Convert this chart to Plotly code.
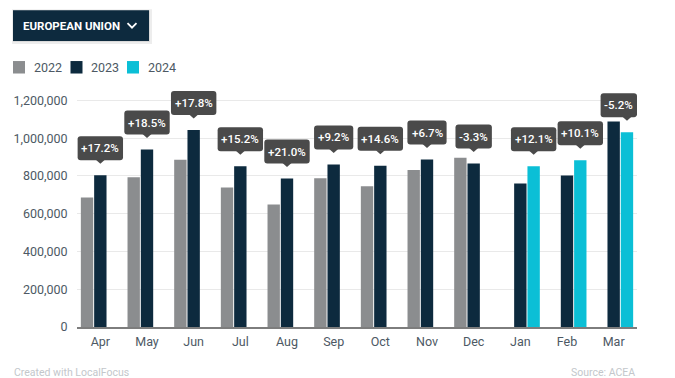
import plotly.graph_objects as go

# ---------------- data ----------------
months = ["Apr", "May", "Jun", "Jul", "Aug", "Sep", "Oct", "Nov", "Dec", "Jan", "Feb", "Mar"]
years = ["2022", "2023", "2024"]
sales_2022 = [686000, 793000, 886000, 739000, 649000, 788000, 745000, 831000, 896000, None, None, None]
sales_2023 = [804000, 940000, 1044000, 851000, 786000, 861000, 854000, 887000, 866000, 760000, 802000, 1088000]
sales_2024 = [None, None, None, None, None, None, None, None, None, 852000, 883000, 1032000]
changes = ["+17.2%", "+18.5%", "+17.8%", "+15.2%", "+21.0%", "+9.2%", "+14.6%", "+6.7%", "-3.3%",
           "+12.1%", "+10.1%", "-5.2%"]
y_ticks = [0, 200000, 400000, 600000, 800000, 1000000, 1200000]
title_text = "EUROPEAN UNION"
source_text = "Source: ACEA"
credit_text = "Created with LocalFocus"

# ---------------- style ----------------
W, H = 675, 378
ML, MR, MT, MB = 77, 38, 80, 50.5
PW, PH = W - ML - MR, H - MT - MB
Y_TOP_TICK_PX = 100.5          # pixel row of the 1,200,000 gridline
colors = ["#8b8d8f", "#0d2a3e", "#0bbfd6"]
text_col = "#4d5964"
bubble_col = "#4a4a4a"
BARGAP, GROUPGAP = 0.145, 0.07
FONT = "Roboto"

series = [sales_2022, sales_2023, sales_2024]
xs = list(range(len(months)))
y_max = y_ticks[-1] * PH / (H - MB - Y_TOP_TICK_PX)

fig = go.Figure()
for name, vals, col in zip(years, series, colors):
    fig.add_trace(go.Bar(x=xs, y=vals, name=name, marker=dict(color=col, line=dict(width=0)),
                         showlegend=False))


def px_x(p):
    return (p - ML) / PW


def px_y(p):
    return (H - MB - p) / PH


shapes = []
annotations = []

# ---------------- change bubbles ----------------
slot = (1 - BARGAP) / len(series)
px_per_cat = PW / len(months)
char_w = {"+": 6.3, "-": 3.5, ".": 2.8, "%": 8.2}
for i, lab in enumerate(changes):
    k = max(j for j, s in enumerate(series) if s[i] is not None)
    val = series[k][i]
    bx = i + (k - 1) * slot
    w = 9.5 + sum(char_w.get(c, 6.2) for c in lab)
    right_room = (len(months) - 0.5 - bx) * px_per_cat
    left_room = (bx + 0.5) * px_per_cat
    s = 0.0
    if w / 2 > right_room:
        s = right_room - w / 2
    if w / 2 > left_room:
        s = w / 2 - left_room
    x0, x1, y0, y1, r = s - w / 2, s + w / 2, 15, 39, 3
    path = (f"M{x0 + r},{y0} L{x1 - r},{y0} Q{x1},{y0} {x1},{y0 + r} L{x1},{y1 - r} "
            f"Q{x1},{y1} {x1 - r},{y1} L{x0 + r},{y1} Q{x0},{y1} {x0},{y1 - r} "
            f"L{x0},{y0 + r} Q{x0},{y0} {x0 + r},{y0} Z")
    shapes.append(dict(type="path", xref="x", yref="y", xsizemode="pixel", ysizemode="pixel",
                       xanchor=bx, yanchor=val, path=path, fillcolor=bubble_col,
                       line=dict(width=0), layer="above"))
    shapes.append(dict(type="path", xref="x", yref="y", xsizemode="pixel", ysizemode="pixel",
                       xanchor=bx, yanchor=val, path="M-4.5,15.5 L0,11.5 L4.5,15.5 Z",
                       fillcolor=bubble_col, line=dict(width=0), layer="above"))
    annotations.append(dict(x=bx, y=val, xref="x", yref="y", xshift=s, yshift=27, text=lab,
                            showarrow=False, xanchor="center", yanchor="middle",
                            font=dict(family=FONT, size=11.5, color="white", weight=500)))

# ---------------- title button ----------------
shapes.append(dict(type="rect", xref="paper", yref="paper", x0=px_x(12), x1=px_x(152),
                   y0=px_y(44), y1=px_y(9), fillcolor="rgba(0,0,0,0.07)", line=dict(width=0)))
shapes.append(dict(type="rect", xref="paper", yref="paper", x0=px_x(13), x1=px_x(150),
                   y0=px_y(42), y1=px_y(10), fillcolor="rgba(0,0,0,0.08)", line=dict(width=0)))
shapes.append(dict(type="rect", xref="paper", yref="paper", x0=px_x(13), x1=px_x(149),
                   y0=px_y(41), y1=px_y(10), fillcolor=colors[1], line=dict(width=0)))
shapes.append(dict(type="path", xref="paper", yref="paper",
                   path=f"M{px_x(127.5)},{px_y(23)} L{px_x(132)},{px_y(27.5)} L{px_x(136.5)},{px_y(23)}",
                   line=dict(color="white", width=1.8)))
annotations.append(dict(x=px_x(21), y=px_y(25.5), xref="paper", yref="paper", text=title_text,
                        showarrow=False, xanchor="left", yanchor="middle",
                        font=dict(family=FONT, size=11.5, color="white", weight=700)))

# ---------------- legend ----------------
legend_sq = [13, 70.5, 127]
for x_sq, yr, col in zip(legend_sq, years, colors):
    shapes.append(dict(type="rect", xref="paper", yref="paper", x0=px_x(x_sq), x1=px_x(x_sq + 12),
                       y0=px_y(73.5), y1=px_y(61), fillcolor=col, line=dict(width=0)))
    annotations.append(dict(x=px_x(x_sq + 18.5), y=px_y(67), xref="paper", yref="paper", text=yr,
                            showarrow=False, xanchor="left", yanchor="middle",
                            font=dict(family=FONT, size=12.5, color=text_col)))

# ---------------- footer ----------------
annotations.append(dict(x=px_x(12), y=px_y(373), xref="paper", yref="paper", text=credit_text,
                        showarrow=False, xanchor="left", yanchor="middle",
                        font=dict(family=FONT, size=10.5, color="#c3c7cb")))
annotations.append(dict(x=px_x(637), y=px_y(373), xref="paper", yref="paper", text=source_text,
                        showarrow=False, xanchor="right", yanchor="middle",
                        font=dict(family=FONT, size=10.5, color="#c3c7cb")))

fig.update_layout(
    width=W, height=H,
    margin=dict(l=ML, r=MR, t=MT, b=MB, autoexpand=False),
    paper_bgcolor="white", plot_bgcolor="white",
    barmode="group", bargap=BARGAP, bargroupgap=GROUPGAP,
    showlegend=False,
    font=dict(family=FONT, color=text_col),
    shapes=shapes, annotations=annotations,
    xaxis=dict(range=[-0.5, len(months) - 0.5], tickvals=xs, ticktext=months,
               showgrid=False, zeroline=False, showline=True, linecolor="#7d7d7d", linewidth=2,
               ticks="outside", ticklen=2, tickcolor="rgba(0,0,0,0)",
               tickfont=dict(family=FONT, size=12.5, color=text_col), fixedrange=True),
    yaxis=dict(range=[0, y_max], tickvals=y_ticks, tickformat=",", showgrid=True,
               gridcolor="#e9e9e9", gridwidth=1, zeroline=False, showline=False,
               ticks="outside", ticklen=6, tickcolor="rgba(0,0,0,0)",
               tickfont=dict(family=FONT, size=12.5, color=text_col), fixedrange=True),
)

fig.write_html("out.html", config={"displayModeBar": False},
               post_script="document.body.style.margin='0';")
